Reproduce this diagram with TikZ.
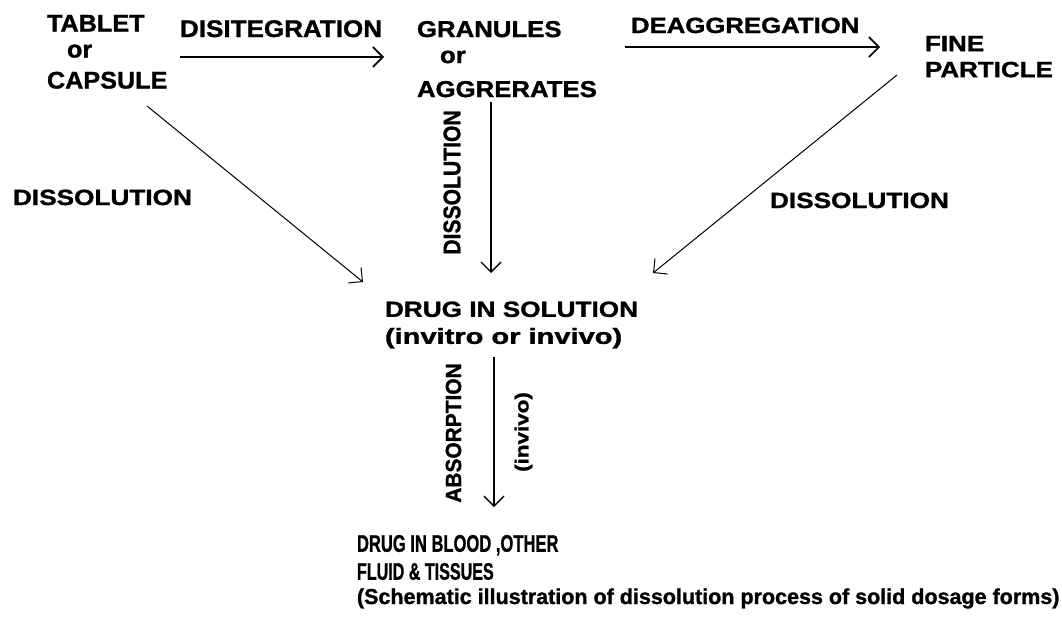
\documentclass[tikz,border=0pt]{standalone}
\usepackage{fontspec}
\setmainfont{Liberation Sans}[BoldFeatures={FakeBold=1.2}]
\usetikzlibrary{arrows.meta}
\newcommand\hsq[2]{\scalebox{#1}[1]{#2}}
\begin{document}
\begin{tikzpicture}[x=1pt,y=-1pt,
  lbl/.style={inner sep=0pt, outer sep=0pt, text=black},
  fa/.style={font=\fontsize{24}{26}\selectfont\bfseries},
  fb/.style={font=\fontsize{22}{26}\selectfont\bfseries},
  arr/.style={-{Straight Barb[length=10pt,width=20pt]}, line width=1.3pt},
  arrh/.style={arr, line width=1.6pt},
  arrd/.style={-{Straight Barb[length=10pt,width=20pt]}, line width=1pt}]
\useasboundingbox (0,0) rectangle (1062,621);
% labels
\node[lbl, fa, anchor=north west, align=left] (tab) at (47,15)
  {\hsq{1.05}{TABLET}\\\hspace*{20pt}\hsq{1.05}{or}\\[5pt]\hsq{1.05}{CAPSULE}};
\node[lbl, fa, anchor=base west] (disi) at (180,37) {\hsq{1.085}{DISITEGRATION}};
\node[lbl, font=\fontsize{23}{26}\selectfont\bfseries, anchor=north west, align=left] (gran) at (417,21)
  {\hsq{1.12}{GRANULES}\\\hspace*{23pt}\hsq{1.12}{or}\\[8pt]\hsq{1.12}{AGGRERATES}};
\node[lbl, fb, anchor=base west] (deag) at (631,33) {\hsq{1.17}{DEAGGREGATION}};
\node[lbl, fb, anchor=north west, align=left] (fine) at (925,36)
  {\hsq{1.18}{FINE}\\\hsq{1.18}{PARTICLE}};
\node[lbl, fb, anchor=base west] (dissL) at (13,205) {\hsq{1.19}{DISSOLUTION}};
\node[lbl, fb, anchor=base west] (dissR) at (770,208) {\hsq{1.19}{DISSOLUTION}};
\node[lbl, fa, rotate=90] (dissV) at (452,182.5) {\hsq{0.88}{DISSOLUTION}};
\node[lbl, font=\fontsize{22}{27}\selectfont\bfseries, anchor=north west, align=left] (sol) at (385,301.5)
  {\hsq{1.19}{DRUG IN SOLUTION}\\\hsq{1.32}{(invitro or invivo)}};
\node[lbl, fb, rotate=90] (abs) at (453.5,433) {\hsq{0.95}{ABSORPTION}};
\node[lbl, font=\fontsize{19}{22}\selectfont\bfseries, rotate=90] (inv) at (523.5,432) {\hsq{1.18}{(invivo)}};
\node[lbl, font=\fontsize{24}{28}\selectfont\bfseries, anchor=north west, align=left] (blood) at (357,535)
  {\hsq{0.69}{DRUG IN BLOOD ,OTHER}\\\hsq{0.67}{FLUID \& TISSUES}};
\node[lbl, font=\fontsize{21.5}{24}\selectfont\bfseries, anchor=base west] (capt) at (357,604)
  {(Schematic illustration of dissolution process of solid dosage forms)};
% connector ends
\coordinate (d1) at (180,57);  \coordinate (d2) at (384,57);
\coordinate (g1) at (625,47);  \coordinate (g2) at (880,47);
\coordinate (t1) at (147,106); \coordinate (t2) at (363,282);
\coordinate (m1) at (491,102); \coordinate (m2) at (491,273);
\coordinate (f1) at (897,75);  \coordinate (f2) at (653,273);
\coordinate (s1) at (494,357); \coordinate (s2) at (494,507);
% connectors
\draw[arrh] (d1) -- (d2);
\draw[arrh] (g1) -- (g2);
\draw[arrd] (t1) -- (t2);
\draw[arr] (m1) -- (m2);
\draw[arrd] (f1) -- (f2);
\draw[arr] (s1) -- (s2);
\end{tikzpicture}
\end{document}
